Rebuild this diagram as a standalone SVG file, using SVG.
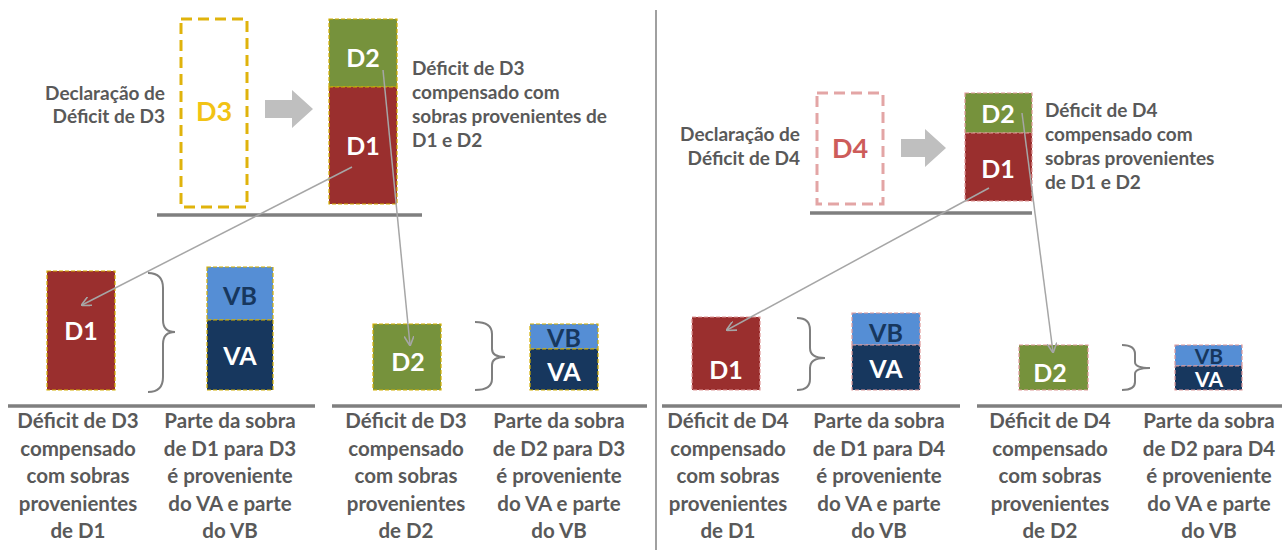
<svg xmlns="http://www.w3.org/2000/svg" width="1282" height="550" viewBox="0 0 1282 550">
<style>
.t{font-family:Lato,"Liberation Sans",sans-serif;font-weight:bold;fill:#595959}
.top{font-size:19px}
.bot{font-size:20.5px;text-anchor:middle}
.lbl{font-family:Lato,"Liberation Sans",sans-serif;font-weight:bold;font-size:25px;text-anchor:middle}
.w{fill:#ffffff}
.nv{fill:#17375E}
.red{fill:#9A2F2E}
.grn{fill:#76923C}
.vb{fill:#558ED5}
.va{fill:#17375E}
.ey{stroke:#D4B000;stroke-width:1.2;stroke-dasharray:4 2}
.ep{stroke:#E09A9A;stroke-width:1.2;stroke-dasharray:4 2}
.base{stroke:#7F7F7F;stroke-width:3.5;fill:none}
.brace{stroke:#7F7F7F;stroke-width:2;fill:none}
.con{stroke:#A6A6A6;stroke-width:1.5;fill:none}
</style>
<defs>
<marker id="ah" viewBox="0 0 10 10" refX="9" refY="5" markerWidth="10" markerHeight="10" markerUnits="userSpaceOnUse" orient="auto">
<path d="M0,0 L10,5 L0,10" fill="none" stroke="#A6A6A6" stroke-width="1.6"/>
</marker>
</defs>
<rect width="1282" height="550" fill="#ffffff"/>

<line x1="656" y1="10" x2="656" y2="550" stroke="#808080" stroke-width="1.5"/>

<!-- LEFT TOP -->
<g id="label-decl-d3">
<text class="t top" x="165" y="100" text-anchor="end">Declaração de</text>
<text class="t top" x="165" y="123" text-anchor="end">Déficit de D3</text>
</g>
<g id="d3-box">
<rect x="181" y="19" width="66" height="188" fill="none" stroke="#E0B30C" stroke-width="3" stroke-dasharray="11 6"/>
<text class="lbl" x="214" y="121" fill="#F2C314" style="font-size:27px">D3</text>
</g>
<g id="arrow-left">
<polygon points="265,100 292,100 292,90 313,109 292,128 292,118 265,118" fill="#BFBFBF"/>
</g>
<g id="stack-left">
<rect class="grn ey" x="329" y="19" width="68" height="68"/>
<rect class="red ey" x="329" y="87" width="68" height="117"/>
<text class="lbl w" x="363" y="67">D2</text>
<text class="lbl w" x="363" y="155">D1</text>
</g>
<line class="base" x1="157" y1="215" x2="422" y2="215"/>
<g id="text-left-top">
<text class="t top" x="412" y="75">Déficit de D3</text>
<text class="t top" x="412" y="99">compensado com</text>
<text class="t top" x="412" y="123">sobras provenientes de</text>
<text class="t top" x="412" y="147">D1 e D2</text>
</g>

<!-- LEFT BOTTOM -->
<g id="l-d1">
<rect class="red ey" x="47" y="271" width="68" height="119"/>
<text class="lbl w" x="81" y="340">D1</text>
</g>
<path class="brace" d="M148,273 Q163,273 163,288 L163,320 Q163,332 175,332 Q163,332 163,344 L163,377 Q163,392 148,392"/>
<g id="l-vbva1">
<rect class="vb ey" x="207" y="267" width="66" height="53"/>
<rect class="va ey" x="207" y="320" width="66" height="70"/>
<text class="lbl nv" x="240" y="305">VB</text>
<text class="lbl w" x="240" y="365">VA</text>
</g>
<g id="l-d2">
<rect class="grn ey" x="373" y="324" width="68" height="66"/>
<text class="lbl w" x="408" y="371">D2</text>
</g>
<path class="brace" d="M475,322 Q492,322 492,334 L492,349 Q492,357 505,357 Q492,357 492,365 L492,379 Q492,390 475,390"/>
<g id="l-vbva2">
<rect class="vb ey" x="530" y="324" width="68" height="25"/>
<rect class="va ey" x="530" y="349" width="68" height="41"/>
<text class="lbl nv" x="564" y="347">VB</text>
<text class="lbl w" x="564" y="381">VA</text>
</g>
<line class="base" x1="8" y1="406" x2="315" y2="406"/>
<line class="base" x1="332" y1="406" x2="647" y2="406"/>
<g id="l-text1">
<text class="t bot" x="78" y="428">Déficit de D3</text>
<text class="t bot" x="78" y="455.5">compensado</text>
<text class="t bot" x="78" y="483">com sobras</text>
<text class="t bot" x="78" y="510.5">provenientes</text>
<text class="t bot" x="78" y="538">de D1</text>
</g>
<g id="l-text2">
<text class="t bot" x="230" y="428">Parte da sobra</text>
<text class="t bot" x="230" y="455.5">de D1 para D3</text>
<text class="t bot" x="230" y="483">é proveniente</text>
<text class="t bot" x="230" y="510.5">do VA e parte</text>
<text class="t bot" x="230" y="538">do VB</text>
</g>
<g id="l-text3">
<text class="t bot" x="406" y="428">Déficit de D3</text>
<text class="t bot" x="406" y="455.5">compensado</text>
<text class="t bot" x="406" y="483">com sobras</text>
<text class="t bot" x="406" y="510.5">provenientes</text>
<text class="t bot" x="406" y="538">de D2</text>
</g>
<g id="l-text4">
<text class="t bot" x="559" y="428">Parte da sobra</text>
<text class="t bot" x="559" y="455.5">de D2 para D3</text>
<text class="t bot" x="559" y="483">é proveniente</text>
<text class="t bot" x="559" y="510.5">do VA e parte</text>
<text class="t bot" x="559" y="538">do VB</text>
</g>

<!-- RIGHT TOP -->
<g id="label-decl-d4">
<text class="t top" x="800" y="141" text-anchor="end">Declaração de</text>
<text class="t top" x="800" y="165" text-anchor="end">Déficit de D4</text>
</g>
<g id="d4-box">
<rect x="817" y="93" width="66" height="111" fill="none" stroke="#E3A5A5" stroke-width="3" stroke-dasharray="11 6"/>
<text class="lbl" x="850" y="158" fill="#CD5C5A" style="font-size:27px">D4</text>
</g>
<g id="arrow-right">
<polygon points="901,139 925,139 925,129 946,148 925,167 925,157 901,157" fill="#BFBFBF"/>
</g>
<g id="stack-right">
<rect class="grn ep" x="965" y="93" width="67" height="40"/>
<rect class="red ep" x="965" y="133" width="67" height="68"/>
<text class="lbl w" x="998" y="123">D2</text>
<text class="lbl w" x="998" y="178">D1</text>
</g>
<line class="base" x1="810" y1="213" x2="1032" y2="213"/>
<g id="text-right-top">
<text class="t top" x="1045" y="117">Déficit de D4</text>
<text class="t top" x="1045" y="141">compensado com</text>
<text class="t top" x="1045" y="165">sobras provenientes</text>
<text class="t top" x="1045" y="189">de D1 e D2</text>
</g>

<!-- RIGHT BOTTOM -->
<g id="r-d1">
<rect class="red ep" x="692" y="317" width="68" height="73"/>
<text class="lbl w" x="726" y="379">D1</text>
</g>
<path class="brace" d="M797,318 Q810,318 810,330 L810,348 Q810,358 825,358 Q810,358 810,368 L810,379 Q810,390 797,390"/>
<g id="r-vbva1">
<rect class="vb ep" x="852" y="313" width="68" height="32"/>
<rect class="va ep" x="852" y="345" width="68" height="45"/>
<text class="lbl nv" x="886" y="342">VB</text>
<text class="lbl w" x="886" y="378">VA</text>
</g>
<g id="r-d2">
<rect class="grn ep" x="1019" y="345" width="69" height="45"/>
<text class="lbl w" x="1050" y="382">D2</text>
</g>
<path class="brace" d="M1122,345 Q1135,345 1135,354 L1135,362 Q1135,368 1150,368 Q1135,368 1135,374 L1135,382 Q1135,390 1122,390"/>
<g id="r-vbva2">
<rect class="vb ep" x="1175" y="345" width="67" height="21"/>
<rect class="va ep" x="1175" y="366" width="67" height="24"/>
<text class="lbl nv" x="1209" y="364" style="font-size:21px">VB</text>
<text class="lbl w" x="1209" y="387" style="font-size:21px">VA</text>
</g>
<line class="base" x1="662" y1="406" x2="960" y2="406"/>
<line class="base" x1="977" y1="406" x2="1282" y2="406"/>
<g id="r-text1">
<text class="t bot" x="728" y="428">Déficit de D4</text>
<text class="t bot" x="728" y="455.5">compensado</text>
<text class="t bot" x="728" y="483">com sobras</text>
<text class="t bot" x="728" y="510.5">provenientes</text>
<text class="t bot" x="728" y="538">de D1</text>
</g>
<g id="r-text2">
<text class="t bot" x="879" y="428">Parte da sobra</text>
<text class="t bot" x="879" y="455.5">de D1 para D4</text>
<text class="t bot" x="879" y="483">é proveniente</text>
<text class="t bot" x="879" y="510.5">do VA e parte</text>
<text class="t bot" x="879" y="538">do VB</text>
</g>
<g id="r-text3">
<text class="t bot" x="1050" y="428">Déficit de D4</text>
<text class="t bot" x="1050" y="455.5">compensado</text>
<text class="t bot" x="1050" y="483">com sobras</text>
<text class="t bot" x="1050" y="510.5">provenientes</text>
<text class="t bot" x="1050" y="538">de D2</text>
</g>
<g id="r-text4">
<text class="t bot" x="1209" y="428">Parte da sobra</text>
<text class="t bot" x="1209" y="455.5">de D2 para D4</text>
<text class="t bot" x="1209" y="483">é proveniente</text>
<text class="t bot" x="1209" y="510.5">do VA e parte</text>
<text class="t bot" x="1209" y="538">do VB</text>
</g>

<!-- CONNECTORS -->
<g id="connectors">
<line class="con" x1="352" y1="167" x2="82" y2="305" marker-end="url(#ah)"/>
<line class="con" x1="383" y1="70" x2="410" y2="345" marker-end="url(#ah)"/>
<line class="con" x1="989" y1="188" x2="727" y2="330" marker-end="url(#ah)"/>
<line class="con" x1="1022" y1="113" x2="1053" y2="352" marker-end="url(#ah)"/>
</g>
</svg>
